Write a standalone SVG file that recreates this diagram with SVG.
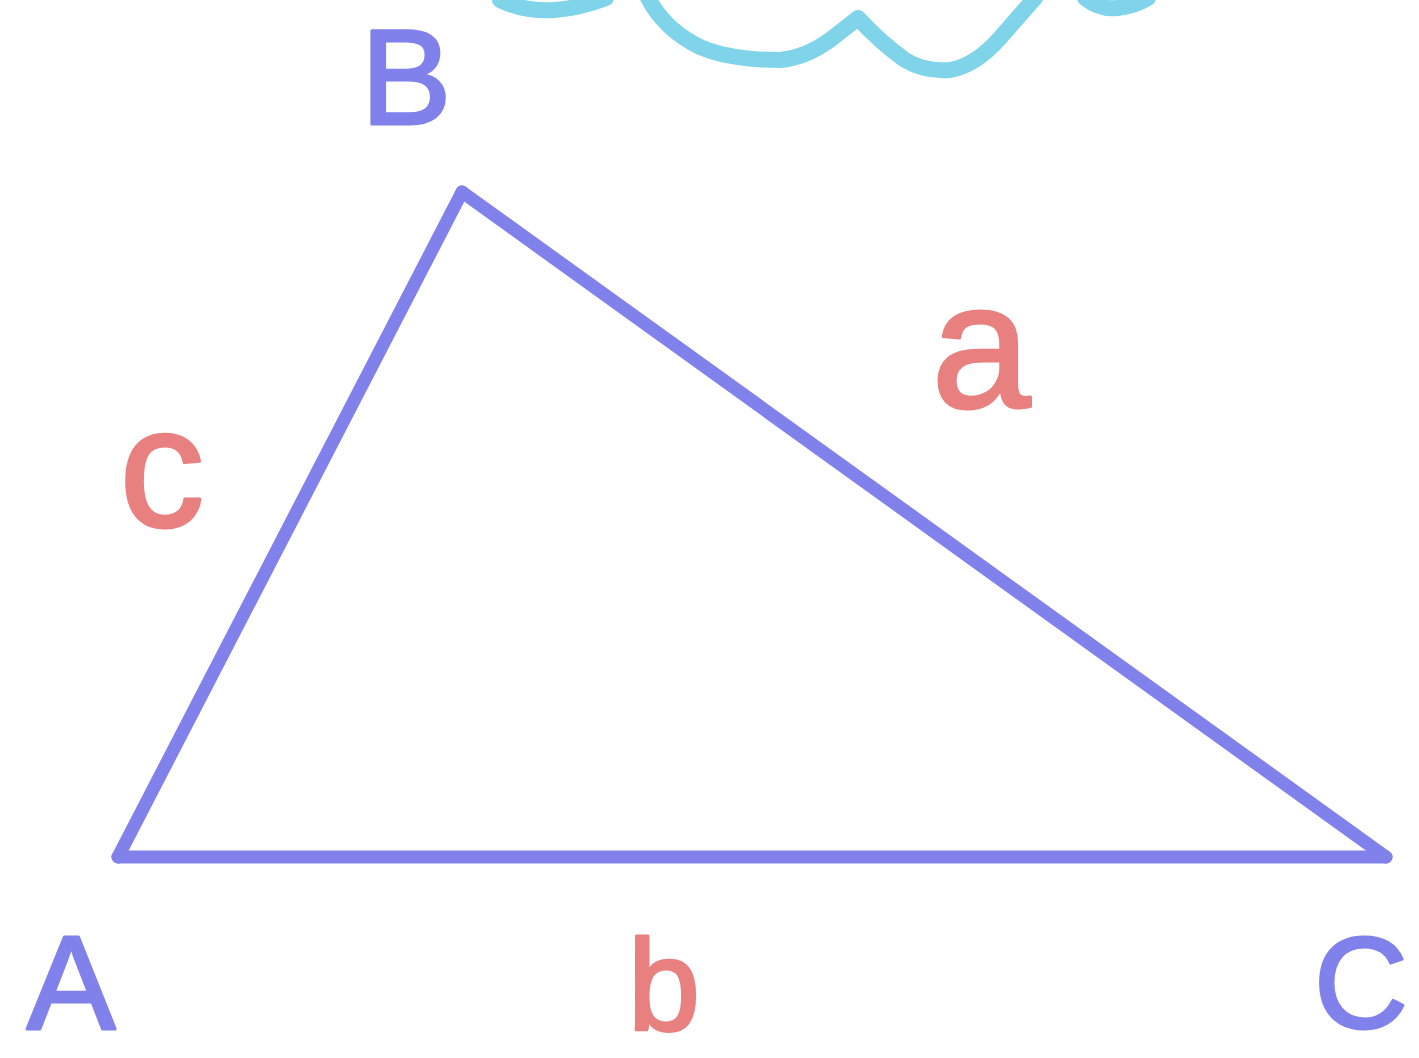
<svg xmlns="http://www.w3.org/2000/svg" width="1419" height="1058" viewBox="0 0 1419 1058">
<style>
.edge{fill:none;stroke:#8181eb;stroke-width:13;stroke-linecap:round;stroke-linejoin:round}
.cloud{fill:none;stroke:#80d4e9;stroke-width:16;stroke-linecap:round;stroke-linejoin:round}
.lbl{font-family:"Liberation Sans","DejaVu Sans",sans-serif;text-anchor:middle;stroke-width:3;stroke-linejoin:round}
.blue{fill:#8181eb;stroke:#8181eb}
.red{fill:#e88080;stroke:#e88080}
</style>
<rect width="1419" height="1058" fill="#ffffff"/>
<g id="cloud">
<path class="cloud" d="M500,0 Q525,12 555,10 Q580,8 606,-2"/>
<path class="cloud" d="M648,-2 Q665,30 700,47 Q730,60 780,60 Q805,58 830,40 L858,18 Q880,42 905,60 Q925,72 950,70 Q975,66 1000,38 L1035,-2"/>
<path class="cloud" d="M1085,-2 Q1100,10 1118,8 Q1135,6 1148,-2"/>
</g>
<g id="connectors">
<path class="edge" d="M118,857 L462,192"/>
<path class="edge" d="M462,192 L1386,857"/>
<path class="edge" d="M118,857 L1386,857"/>
</g>
<g id="vertex-B"><text class="lbl blue" x="406" y="124" font-size="136">B</text></g>
<g id="vertex-A"><text class="lbl blue" x="71" y="1029" font-size="133">A</text></g>
<g id="vertex-C"><text class="lbl blue" x="1361" y="1028" font-size="130">C</text></g>
<g id="side-a"><text class="lbl red" x="981" y="407" font-size="178">a</text></g>
<g id="side-b"><text class="lbl red" x="664" y="1030" font-size="130">b</text></g>
<g id="side-c"><text class="lbl red" x="162" y="526" font-size="170">c</text></g>
</svg>
